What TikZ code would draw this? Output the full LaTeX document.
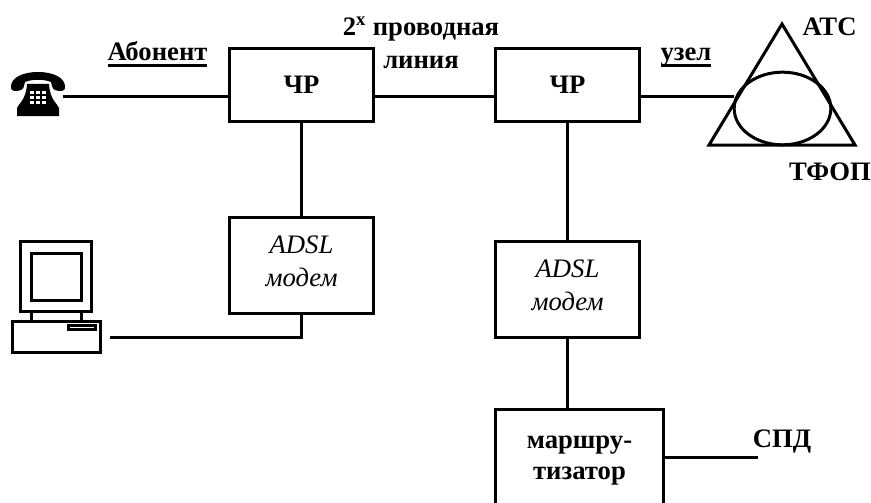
\documentclass[tikz,border=0pt]{standalone}
\usepackage{fontspec}
\setmainfont{Liberation Serif}
\usetikzlibrary{positioning,shapes.geometric}
\newcommand{\undertext}[1]{\setbox0\hbox{#1}\dp0=0pt \vtop{\box0\kern2.3pt\hrule height 1.9pt}}
\newcommand{\lowpad}{\rule[-6pt]{0pt}{0pt}}
\begin{document}
\begin{tikzpicture}[
  x=0.75pt,
  y=-0.75pt,
  line width=2.25pt,
  unit/.style={
    draw,
    align=center,
    outer sep=0pt,
    inner sep=0pt,
    font=\fontsize{20}{23.6}\selectfont\bfseries
  },
  modem/.style={
    unit,
    minimum width=108pt,
    minimum height=72pt,
    font=\fontsize{20}{24.7}\selectfont\itshape
  },
  tag/.style={
    anchor=base,
    inner sep=0pt,
    font=\fontsize{20}{24}\selectfont\bfseries
  }
]
\useasboundingbox (0,0) rectangle (871,503);

\node (chr1) [unit, minimum width=108pt, minimum height=54pt] at (301.5,85) {ЧР};
\node (chr2) [unit, minimum width=108pt, minimum height=54pt, right=91.5pt of chr1] {ЧР};
\node (adsl1) [modem, below=72pt of chr1] {ADSL\\ модем\lowpad};
\node (adsl2) [modem, below=90pt of chr2] {ADSL\\ модем\lowpad};
\node (router) [unit, minimum width=126pt, minimum height=77pt,
  below=54pt of adsl2.south west, anchor=north west] {маршру-\\ тизатор};
\node (ats) [draw, ellipse, inner sep=0pt, outer sep=0pt, minimum width=72.5pt, minimum height=54.5pt] at (782.5,108.5) {};
\node (phone) [inner sep=0pt, outer sep=0pt, minimum width=39.5pt, minimum height=37pt] at (36.5,97) {};
\coordinate (pcend) at (110,337);
\coordinate (spdend) at (758,457);

\node (abonent) [tag] at (157.5,61) {\undertext{Абонент}};
\node (wire) [tag] at (421,36) {2\textsuperscript{x} проводная};
\node (wire2) [tag] at (421,69) {линия};
\node (uzel) [tag] at (686,61) {\undertext{узел}};
\node (atc) [tag] at (829.5,36) {АТС};
\node (tfop) [tag] at (830,180) {ТФОП};
\node (spd) [tag] at (782,447) {СПД};

% links
\draw (phone) -- (phone -| chr1.west);
\draw (phone -| chr1.east) -- (phone -| chr2.west);
\draw (phone -| chr2.east) -- (phone -| ats.west);
\draw (chr1) -- (adsl1);
\draw (chr2) -- (adsl2);
\draw (adsl2) -- (adsl2 |- router.north);
\draw (router.east |- spdend) -- (spdend);
\draw[line join=miter] (adsl1) -- (adsl1 |- pcend) -- (pcend);

% exchange
\draw[line join=miter] (782,24) -- (855,145) -- (709,145) -- cycle;

% telephone
\fill (17,116) -- (17,108) .. controls (19,103) and (26,100) .. (27,84) -- (49,84) .. controls (50,100) and (57,103) .. (59,108) -- (59,116) -- cycle;
\fill (11,88) .. controls (10,77) and (24,72) .. (38,72) .. controls (52,72) and (66,77) .. (65,88) .. controls (65,91) and (60,92) .. (55,90) .. controls (52,89) and (52,85) .. (51,82) .. controls (44,79) and (32,79) .. (25,82) .. controls (24,85) and (24,89) .. (21,90) .. controls (16,92) and (11,91) .. cycle;
\foreach \keyx in {30,36,42}
  \foreach \keyy in {91,96,101}
    \fill[white] (\keyx,\keyy) rectangle ++(4,3);

% computer
\draw (20,241) rectangle (91,311);
\draw (31,253) rectangle (81,300);
\draw (31,311) -- (31,321);
\draw (81,311) -- (81,321);
\draw (12,321) rectangle (100,352);
\draw (68,325) rectangle (95,329);
\end{tikzpicture}
\end{document}
